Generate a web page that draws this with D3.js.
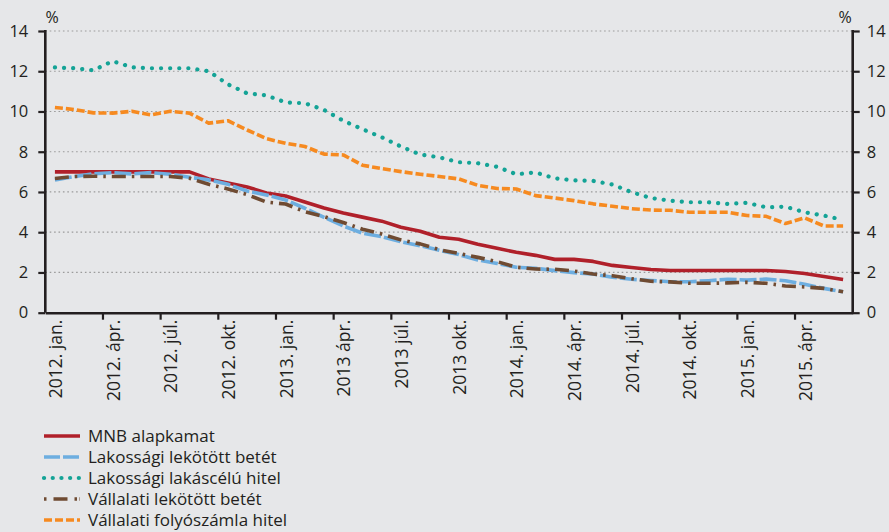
<!DOCTYPE html>
<html>
<head>
<meta charset="utf-8">
<script src="https://cdn.jsdelivr.net/npm/d3@7"></script>
<style>
  html, body { margin: 0; padding: 0; background: #e6e7e9; }
  svg { display: block; font-family: "Open Sans", sans-serif; }
</style>
</head>
<body>
<svg id="chart" width="889" height="532"></svg>
<script>
const months = [
  "2012-01","2012-02","2012-03","2012-04","2012-05","2012-06","2012-07","2012-08","2012-09","2012-10","2012-11","2012-12",
  "2013-01","2013-02","2013-03","2013-04","2013-05","2013-06","2013-07","2013-08","2013-09","2013-10","2013-11","2013-12",
  "2014-01","2014-02","2014-03","2014-04","2014-05","2014-06","2014-07","2014-08","2014-09","2014-10","2014-11","2014-12",
  "2015-01","2015-02","2015-03","2015-04","2015-05","2015-06"
];
const tickMonths = ["2012-01","2012-04","2012-07","2012-10","2013-01","2013-04","2013-07","2013-10","2014-01","2014-04","2014-07","2014-10","2015-01","2015-04"];
const tickLabels = ["2012. jan.","2012. ápr.","2012. júl.","2012. okt.","2013. jan.","2013 ápr.","2013 júl.","2013 okt.","2014. jan.","2014. ápr.","2014. júl.","2014. okt.","2015. jan.","2015. ápr."];
const yTicks = [0, 2, 4, 6, 8, 10, 12, 14];

const seriesNames = ["MNB alapkamat","Lakossági lekötött betét","Lakossági lakáscélú hitel","Vállalati lekötött betét","Vállalati folyószámla hitel"];
const mnbRate = [7,7,7,7,7,7,7,7,6.65,6.45,6.25,5.95,5.8,5.5,5.2,4.95,4.75,4.55,4.25,4.05,3.75,3.65,3.4,3.2,3.0,2.85,2.65,2.65,2.55,2.35,2.25,2.15,2.1,2.1,2.1,2.1,2.1,2.1,2.05,1.95,1.8,1.65];
const householdDeposit = [6.6,6.77,6.9,6.96,6.9,6.96,6.88,6.73,6.6,6.38,6.05,5.85,5.6,5.19,4.74,4.31,3.95,3.78,3.53,3.33,3.1,2.89,2.62,2.45,2.26,2.21,2.09,1.99,1.92,1.76,1.66,1.6,1.54,1.54,1.59,1.66,1.62,1.67,1.59,1.41,1.21,1.04];
const housingLoan = [12.19,12.15,12.05,12.5,12.2,12.15,12.15,12.15,12.0,11.35,10.9,10.8,10.45,10.41,10.08,9.54,9.12,8.72,8.26,7.86,7.72,7.48,7.43,7.25,6.88,6.97,6.68,6.58,6.55,6.37,5.99,5.7,5.57,5.49,5.49,5.41,5.46,5.24,5.27,4.99,4.83,4.61];
const corporateDeposit = [6.67,6.77,6.78,6.77,6.77,6.77,6.77,6.68,6.38,6.15,5.87,5.5,5.4,5.02,4.78,4.48,4.15,3.91,3.62,3.42,3.13,2.95,2.75,2.54,2.26,2.17,2.16,2.07,1.92,1.84,1.69,1.56,1.53,1.46,1.46,1.48,1.51,1.46,1.33,1.28,1.21,1.04];
const overdraftLoan = [10.2,10.1,9.93,9.92,10.01,9.83,10.01,9.92,9.42,9.54,9.08,8.65,8.42,8.26,7.88,7.84,7.33,7.16,7.01,6.88,6.77,6.65,6.33,6.17,6.15,5.82,5.7,5.57,5.41,5.29,5.17,5.1,5.09,4.99,4.99,4.99,4.83,4.79,4.43,4.71,4.31,4.31];

const seriesValues = [mnbRate, householdDeposit, housingLoan, corporateDeposit, overdraftLoan];
const styles = [
  { color: "#b0202a", dash: null, width: 3.6, cap: "butt" },
  { color: "#6daee0", dash: "17,3", width: 3.6, cap: "butt" },
  { color: "#14a396", dash: "0.1,9", width: 4.2, cap: "round" },
  { color: "#6f4b32", dash: "14,6,2.5,6", width: 3.6, cap: "butt" },
  { color: "#f68a20", dash: "8,3", width: 3.6, cap: "butt" }
];

const svg = d3.select("#chart");
const L = 45.3, R = 852.7, T = 31, B = 312.7;
const x = d3.scaleBand().domain(months).range([L, R]).padding(0);
const y = d3.scaleLinear().domain([0, 14]).range([B, T]);
const axisColor = "#231f20";
const textColor = "#231f20";

// gridlines
svg.append("g").selectAll("line")
  .data(yTicks.filter(d => d > 0))
  .join("line")
  .attr("x1", L).attr("x2", R)
  .attr("y1", d => y(d)).attr("y2", d => y(d))
  .attr("stroke", "#9b9b9b").attr("stroke-width", 1.2)
  .attr("stroke-dasharray", "1.6,2.8");

// series lines
const line = d3.line()
  .x((d, i) => x(months[i]) + x.bandwidth() / 2)
  .y(d => y(d));

seriesValues.forEach((vals, k) => {
  const s = styles[k];
  svg.append("path")
    .datum(vals)
    .attr("fill", "none")
    .attr("stroke", s.color)
    .attr("stroke-width", s.width)
    .attr("stroke-linecap", s.cap)
    .attr("stroke-linejoin", "round")
    .attr("stroke-dasharray", s.dash)
    .attr("d", line);
});

// y axes
const yLeft = svg.append("g").attr("transform", `translate(${L},0)`)
  .call(d3.axisLeft(y).tickValues(yTicks).tickSize(7).tickPadding(10).tickFormat(d3.format("d")));
const yRight = svg.append("g").attr("transform", `translate(${R},0)`)
  .call(d3.axisRight(y).tickValues(yTicks).tickSize(7).tickPadding(7).tickFormat(d3.format("d")));

// x axis: ticks at left edges, labels at centres
const xTicksG = svg.append("g").attr("transform", `translate(${-x.bandwidth() / 2},${B})`)
  .call(d3.axisBottom(x).tickValues(tickMonths.slice(1)).tickSize(7).tickFormat(""));
xTicksG.select(".domain").remove();
const xLab = svg.append("g").attr("transform", `translate(0,${B})`)
  .call(d3.axisBottom(x).tickValues(tickMonths).tickSize(0)
    .tickFormat(d => tickLabels[tickMonths.indexOf(d)]));
xLab.select(".domain").attr("stroke", axisColor).attr("stroke-width", 2.6);

[yLeft, yRight, xTicksG].forEach(g => {
  g.select(".domain").attr("stroke", axisColor).attr("stroke-width", 2.6);
  g.selectAll(".tick line").attr("stroke", axisColor).attr("stroke-width", 2.2);
  g.selectAll("text").attr("font-size", 16.5).attr("fill", textColor)
    .attr("font-family", "'Open Sans', sans-serif");
});
xLab.selectAll("text")
  .attr("transform", "rotate(-90)")
  .attr("text-anchor", "end")
  .attr("x", -7).attr("y", 1).attr("dy", "0.35em")
  .attr("font-size", 17.5).attr("fill", textColor)
  .attr("font-family", "'Open Sans', sans-serif");
yLeft.select(".domain").attr("d", `M-0,${B}V${T - 1}`);
yRight.select(".domain").attr("d", `M0,${B}V${T - 1}`);

// % labels
svg.append("text").attr("x", 52).attr("y", 23).attr("text-anchor", "middle")
  .attr("font-size", 16).attr("fill", textColor).text("%");
svg.append("text").attr("x", 845).attr("y", 23).attr("text-anchor", "middle")
  .attr("font-size", 16).attr("fill", textColor).text("%");

// legend
const legend = svg.append("g");
seriesNames.forEach((name, k) => {
  const s = styles[k];
  const cy = 436 + k * 21;
  legend.append("line")
    .attr("x1", 44).attr("x2", 80).attr("y1", cy).attr("y2", cy)
    .attr("stroke", s.color).attr("stroke-width", s.width)
    .attr("stroke-linecap", s.cap)
    .attr("stroke-dasharray", k === 2 ? "0.1,8.6" : (k === 3 ? "2.5,7,14,7,2.5" : (k === 1 ? "16,3" : s.dash)));
  legend.append("text")
    .attr("x", 88).attr("y", cy).attr("dy", "0.36em")
    .attr("font-size", 17).attr("fill", textColor)
    .text(name);
});
</script>
</body>
</html>
